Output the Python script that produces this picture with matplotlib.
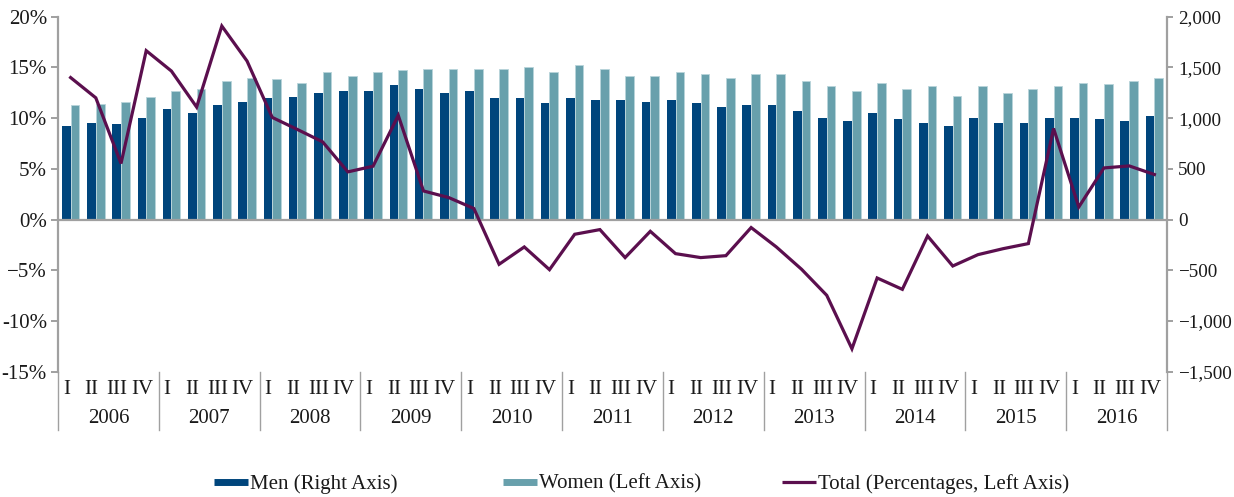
import numpy as np
import matplotlib
matplotlib.use("Agg")
import matplotlib.pyplot as plt
from matplotlib.lines import Line2D
from matplotlib.transforms import blended_transform_factory
from matplotlib.ticker import FixedLocator, FixedFormatter

plt.rcParams["font.family"] = ["Liberation Serif", "DejaVu Serif"]

# ---- data -------------------------------------------------------------
years = ["2006", "2007", "2008", "2009", "2010", "2011",
         "2012", "2013", "2014", "2015", "2016"]
quarters = ["I", "II", "III", "IV"]

# Men, right axis units
men = [920, 950, 940, 1005, 1090, 1055, 1125, 1160, 1195, 1210, 1245, 1265,
       1265, 1330, 1285, 1245, 1265, 1195, 1195, 1145, 1195, 1180, 1180, 1160,
       1180, 1145, 1110, 1125, 1125, 1075, 1005, 970, 1055, 990, 955, 920,
       1005, 955, 955, 1005, 1005, 990, 970, 1025]

# Women, left axis (%)
women = [11.25, 11.4, 11.6, 12.1, 12.7, 12.83, 13.7, 14.0, 13.85, 13.5, 14.54,
         14.18, 14.54, 14.7, 14.87, 14.87, 14.87, 14.87, 15.06, 14.54, 15.23,
         14.87, 14.2, 14.2, 14.54, 14.37, 14.0, 14.37, 14.37, 13.7, 13.16,
         12.66, 13.5, 12.83, 13.16, 12.14, 13.16, 12.47, 12.83, 13.16, 13.5,
         13.33, 13.7, 14.0]

# Total, left axis (%)
total = [14.0, 12.0, 5.53, 16.65, 14.64, 11.09, 19.08, 15.63, 10.07, 8.88,
         7.66, 4.7, 5.26, 10.27, 2.82, 2.17, 1.09, -4.41, -2.7, -4.94, -1.45,
         -0.99, -3.75, -1.16, -3.36, -3.75, -3.56, -0.79, -2.7, -4.9, -7.47,
         -12.74, -5.76, -6.88, -1.62, -4.58, -3.46, -2.87, -2.37, 8.98, 1.24,
         5.09, 5.29, 4.44]

left_ticks = [-15, -10, -5, 0, 5, 10, 15, 20]
left_labels = ["-15%", "-10%", "\u22125%", "0%", "5%", "10%", "15%", "20%"]
right_ticks = [-1500, -1000, -500, 0, 500, 1000, 1500, 2000]
right_labels = ["\u22121,500", "\u22121,000", "\u2212500", "0", "500",
                "1,000", "1,500", "2,000"]

series_names = ["Men (Right Axis)", "Women (Left Axis)",
                "Total (Percentages, Left Axis)"]

# ---- style ------------------------------------------------------------
MEN_C = "#00457C"
WOMEN_C = "#68A0AC"
TOTAL_C = "#5B0F4E"
AXIS_C = "#A0A0A0"
TEXT_C = "#1a1a1a"
FS = 15

W, H = 1234, 497
fig = plt.figure(figsize=(W / 100, H / 100), dpi=100)
x0, x1, ytop, ybot = 58, 1167, 16.7, 371.7
ax1 = fig.add_axes([x0 / W, (H - ybot) / H, (x1 - x0) / W, (ybot - ytop) / H])
ax2 = ax1.twinx()
ax1.set_zorder(ax2.get_zorder() + 1)
ax1.patch.set_visible(False)

n = len(total)
x = np.arange(n)
bw = 0.345

ax2.bar(x - bw / 2, men, bw, color=MEN_C, linewidth=0)
ax1.bar(x + bw / 2, women, bw, color=WOMEN_C, edgecolor="#B8D4DA",
        linewidth=0.6)
ax1.axhline(0, color=AXIS_C, lw=1.6, zorder=2)
ax1.plot(x, total, color=TOTAL_C, lw=2.3, zorder=3, solid_joinstyle="miter")

ax1.set_xlim(-0.5, n - 0.5)
ax1.set_ylim(-15, 20)
ax2.set_ylim(-1500, 2000)

for ax in (ax1, ax2):
    for s in ("top", "bottom"):
        ax.spines[s].set_visible(False)
    ax.set_xticks([])
ax1.spines["right"].set_visible(False)
ax2.spines["left"].set_visible(False)
ax1.spines["left"].set_color(AXIS_C)
ax1.spines["left"].set_linewidth(1.6)
ax2.spines["right"].set_color(AXIS_C)
ax2.spines["right"].set_linewidth(1.6)

ax1.yaxis.set_major_locator(FixedLocator(left_ticks))
ax1.yaxis.set_major_formatter(FixedFormatter(left_labels))
ax2.yaxis.set_major_locator(FixedLocator(right_ticks))
ax2.yaxis.set_major_formatter(FixedFormatter(right_labels))
ax1.tick_params(axis="y", length=5, width=1.4, color=AXIS_C, pad=3,
                labelsize=FS, labelcolor=TEXT_C)
ax2.tick_params(axis="y", length=4, width=1.4, color=AXIS_C, pad=4,
                labelsize=13.8, labelcolor=TEXT_C)

# category axis: quarters, years and group separators below the plot
tr = blended_transform_factory(ax1.transData, ax1.transAxes)
ph = ybot - ytop
sep_bottom = -(430 - ybot) / ph
for k in range(len(years) + 1):
    xs = -0.5 + 4 * k
    ax1.plot([xs, xs], [0, sep_bottom], transform=tr, clip_on=False,
             color=AXIS_C, lw=1.0)
for i in range(n):
    ax1.text(i - 0.17, -(389 - ybot) / ph, quarters[i % 4], transform=tr,
             ha="center", va="center", fontsize=FS, color=TEXT_C)
for k, yr in enumerate(years):
    ax1.text(4 * k + 1.5, -(418.5 - ybot) / ph, yr, transform=tr,
             ha="center", va="center", fontsize=FS, color=TEXT_C)

# legend: three separate entries along the bottom
handles = [
    Line2D([], [], color=MEN_C, lw=5, solid_capstyle="butt"),
    Line2D([], [], color=WOMEN_C, lw=5, solid_capstyle="butt"),
    Line2D([], [], color=TOTAL_C, lw=2.3, solid_capstyle="butt"),
]
starts = [214, 503, 782]
LFS = 15
for h, name, sx in zip(handles, series_names, starts):
    fig.legend([h], [name], loc="center left",
               bbox_to_anchor=(sx / W, 1 - 484 / H), frameon=False,
               fontsize=LFS, borderpad=0, borderaxespad=0,
               handlelength=24.5 / LFS, handletextpad=0.08,
               labelcolor=TEXT_C)

fig.savefig("out.png", dpi=100)
